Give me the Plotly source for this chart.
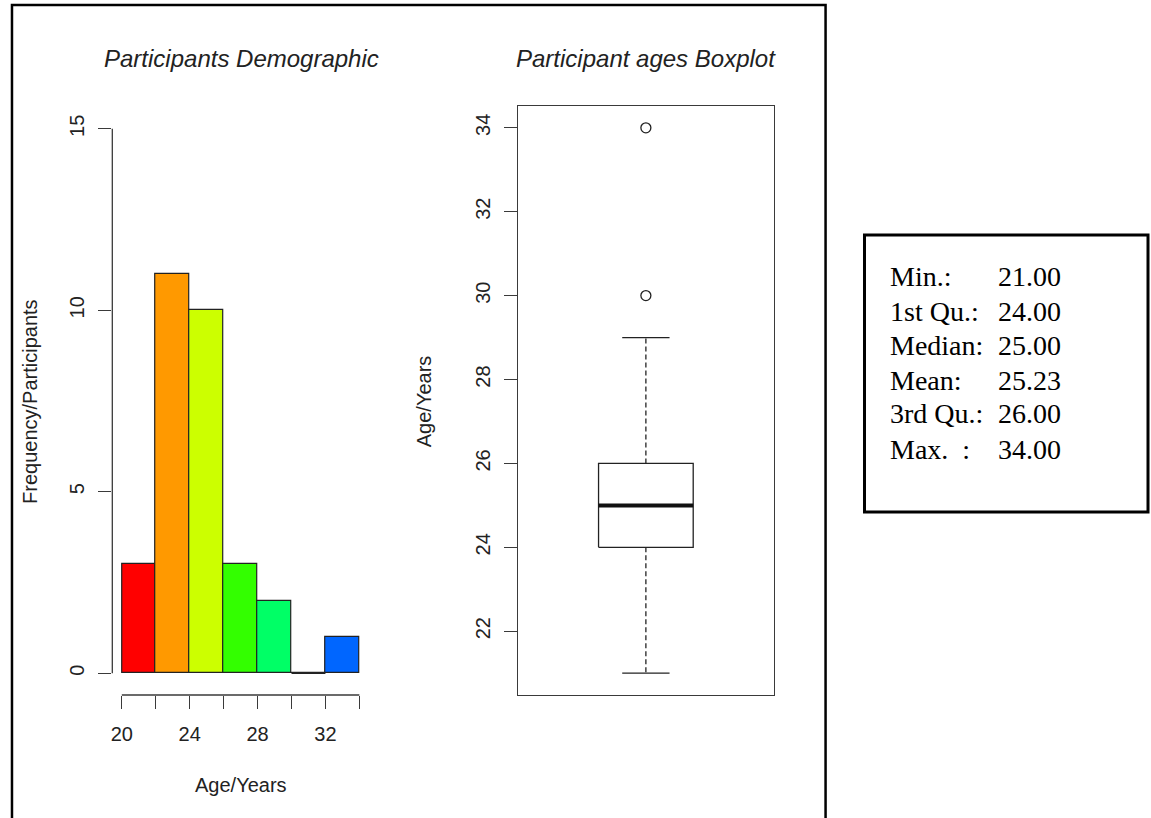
import numpy as np
import plotly.graph_objects as go

W, H = 1151, 818

# ---- data -------------------------------------------------------------
bin_edges = [20, 22, 24, 26, 28, 30, 32, 34]
bin_counts = [3, 11, 10, 3, 2, 0, 1]
bin_colors = ["#FF0000", "#FF9900", "#CCFF00", "#33FF00", "#00FF66", "#00FFFF", "#0066FF"]

hist_yticks = [0, 5, 10, 15]
hist_xticks = [20, 22, 24, 26, 28, 30, 32, 34]
hist_xticklabels = ["20", "", "24", "", "28", "", "32", ""]

age_min, age_q1, age_median, age_q3, age_upper_whisker = 21, 24, 25, 26, 29
age_outliers = [30, 34]
box_yticks = [22, 24, 26, 28, 30, 32, 34]

summary_labels = ["Min.:", "1st Qu.:", "Median:", "Mean:", "3rd Qu.:", "Max.  :"]
summary_values = ["21.00", "24.00", "25.00", "25.23", "26.00", "34.00"]


def px_x(p):
    return p / W


def px_y(p):
    return 1 - p / H


SANS = "Liberation Sans, Arial, Helvetica, sans-serif"
SERIF = "Liberation Serif, Times New Roman, serif"
AX = "#3a3a3a"

fig = go.Figure()

# ---- histogram --------------------------------------------------------
edges = np.array(bin_edges, dtype=float)
centers = (edges[:-1] + edges[1:]) / 2
widths = np.diff(edges)
fig.add_trace(go.Bar(
    x=centers, y=bin_counts, width=widths, marker=dict(color=bin_colors, line=dict(color="#222", width=1.2)),
    xaxis="x", yaxis="y", showlegend=False, hoverinfo="skip",
))
# empty bins still show their outline along the baseline
for i, c in enumerate(bin_counts):
    if c == 0:
        fig.add_trace(go.Scatter(
            x=[edges[i], edges[i + 1]], y=[0, 0], mode="lines",
            line=dict(color="#222", width=1.5), xaxis="x", yaxis="y",
            showlegend=False, hoverinfo="skip",
        ))

# ---- boxplot ----------------------------------------------------------
hw = 0.2  # half box width
cap = 0.1
line_kw = dict(color="#222", width=1.3)
fig.add_trace(go.Scatter(
    x=[1 - hw, 1 + hw, 1 + hw, 1 - hw, 1 - hw],
    y=[age_q1, age_q1, age_q3, age_q3, age_q1],
    mode="lines", line=line_kw, xaxis="x2", yaxis="y2", showlegend=False, hoverinfo="skip",
))
fig.add_trace(go.Scatter(
    x=[1 - hw, 1 + hw], y=[age_median, age_median], mode="lines",
    line=dict(color="#111", width=4), xaxis="x2", yaxis="y2", showlegend=False, hoverinfo="skip",
))
for a, b in [(age_q3, age_upper_whisker), (age_q1, age_min)]:
    fig.add_trace(go.Scatter(
        x=[1, 1], y=[a, b], mode="lines",
        line=dict(color="#222", width=1.3, dash="5px,3px"),
        xaxis="x2", yaxis="y2", showlegend=False, hoverinfo="skip",
    ))
    fig.add_trace(go.Scatter(
        x=[1 - cap, 1 + cap], y=[b, b], mode="lines", line=line_kw,
        xaxis="x2", yaxis="y2", showlegend=False, hoverinfo="skip",
    ))
fig.add_trace(go.Scatter(
    x=[1] * len(age_outliers), y=age_outliers, mode="markers",
    marker=dict(symbol="circle-open", size=10, color="#222", line=dict(width=1.3)),
    xaxis="x2", yaxis="y2", showlegend=False, hoverinfo="skip",
))

# ---- axes -------------------------------------------------------------
tickfont = dict(family=SANS, size=20, color="#222")
fig.update_layout(
    width=W, height=H, margin=dict(l=0, r=0, t=0, b=0),
    paper_bgcolor="white", plot_bgcolor="white", bargap=0,
    xaxis=dict(
        domain=[px_x(110.5), px_x(367.5)], range=[19.44, 34.56], anchor="y",
        tickvals=hist_xticks, ticktext=hist_xticklabels, ticks="outside", ticklen=13,
        tickcolor=AX, tickwidth=1.3, showline=False, showgrid=False, zeroline=False,
        tickfont=tickfont, ticklabelstandoff=8,
    ),
    yaxis=dict(
        domain=[px_y(695), px_y(107)], range=[-0.6, 15.6], anchor="x",
        tickvals=hist_yticks, ticks="outside", ticklen=13, tickcolor=AX, tickwidth=1.3,
        showline=False, showgrid=False, zeroline=False, tickangle=-90,
        tickfont=tickfont, ticklabelstandoff=6,
    ),
    xaxis2=dict(
        domain=[px_x(517), px_x(773)], range=[0.46, 1.54], anchor="y2",
        showticklabels=False, ticks="", showline=True, mirror=True, linecolor=AX,
        linewidth=1.3, showgrid=False, zeroline=False,
    ),
    yaxis2=dict(
        domain=[px_y(695), px_y(106)], range=[20.48, 34.52], anchor="x2",
        tickvals=box_yticks, ticks="outside", ticklen=13, tickcolor=AX, tickwidth=1.3,
        showline=True, mirror=True, linecolor=AX, linewidth=1.3,
        showgrid=False, zeroline=False, tickangle=-90,
        tickfont=tickfont, ticklabelstandoff=6,
    ),
)

shapes = [
    # histogram axis lines span first to last tick only
    dict(type="line", xref="x", yref="y domain", x0=hist_xticks[0], x1=hist_xticks[-1], y0=0, y1=0,
         line=dict(color=AX, width=1.3)),
    dict(type="line", xref="x domain", yref="y", x0=0, x1=0, y0=hist_yticks[0], y1=hist_yticks[-1],
         line=dict(color=AX, width=1.3)),
    # frame around the plots
    dict(type="rect", xref="paper", yref="paper", x0=px_x(10), x1=px_x(825), y0=px_y(830), y1=px_y(5),
         line=dict(color="black", width=2.5)),
    # summary box
    dict(type="rect", xref="paper", yref="paper", x0=px_x(864), x1=px_x(1148), y0=px_y(512), y1=px_y(235),
         line=dict(color="black", width=3)),
]
fig.update_layout(shapes=shapes)

annotations = [
    dict(text="<i>Participants Demographic</i>", x=px_x(240), y=px_y(59),
         font=dict(family=SANS, size=24, color="#222")),
    dict(text="<i>Participant ages Boxplot</i>", x=px_x(645), y=px_y(59),
         font=dict(family=SANS, size=24, color="#222")),
    dict(text="Age/Years", x=px_x(239), y=px_y(785), font=dict(family=SANS, size=20, color="#222")),
    dict(text="Frequency/Participants", x=px_x(28), y=px_y(401), textangle=-90,
         font=dict(family=SANS, size=20, color="#222")),
    dict(text="Age/Years", x=px_x(423), y=px_y(401), textangle=-90,
         font=dict(family=SANS, size=20, color="#222")),
]
row_y = [276, 311, 345, 380, 414, 449]
for lab, val, yy in zip(summary_labels, summary_values, row_y):
    annotations.append(dict(text=lab, x=px_x(888), y=px_y(yy), xanchor="left",
                            font=dict(family=SERIF, size=28, color="black")))
    annotations.append(dict(text=val, x=px_x(996), y=px_y(yy), xanchor="left",
                            font=dict(family=SERIF, size=28, color="black")))
for a in annotations:
    a.setdefault("xref", "paper")
    a.setdefault("yref", "paper")
    a.setdefault("showarrow", False)
    a.setdefault("xanchor", "center")
    a.setdefault("yanchor", "middle")
fig.update_layout(annotations=annotations)

fig.write_html("out.html")
